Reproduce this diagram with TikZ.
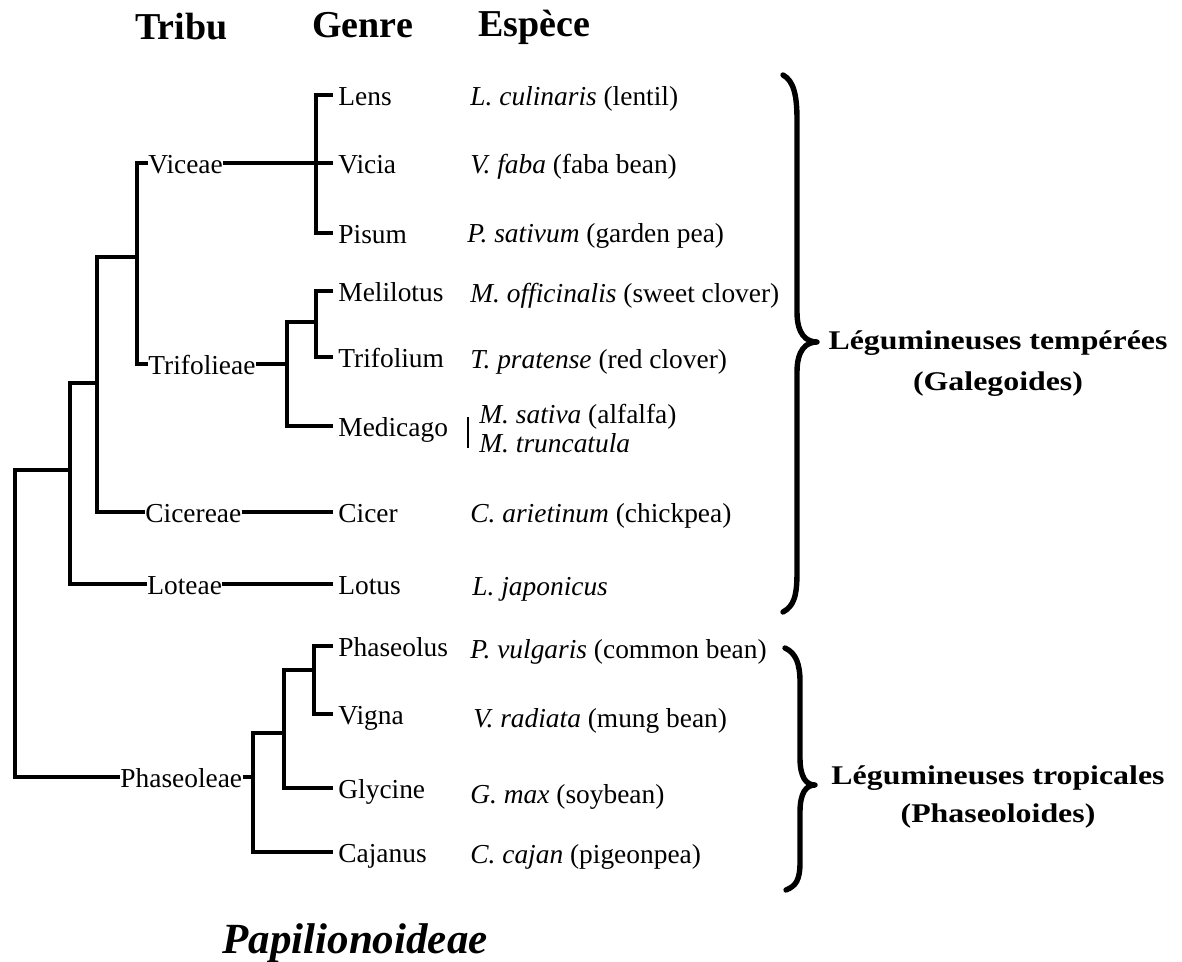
\documentclass[tikz,border=0pt]{standalone}
\usepackage{fontspec}
\setmainfont{Liberation Serif}
\usepackage{graphicx}
\begin{document}
\begin{tikzpicture}[x=0.5pt,y=-0.5pt,
  tree/.style={line width=2.3pt, line join=miter},
  body/.style={font=\fontsize{13.7}{16}\selectfont, inner sep=0pt},
  genus/.style={body, anchor=west, text height=11pt, text depth=0.5pt, inner xsep=2.5pt},
  tribe/.style={body, anchor=west, text height=11pt, text depth=0.5pt},
  species/.style={body, anchor=base west},
  header/.style={font=\fontsize{19}{22}\selectfont\bfseries, inner sep=0pt, anchor=base west},
  grouplab/.style={font=\fontsize{13.5}{16}\selectfont\bfseries, inner sep=0pt, anchor=base},
  bracepath/.style={line width=2.7pt, line cap=round, line join=round}]
\useasboundingbox (0,0) rectangle (1182,962);

% headers
\node[header] (hTribu) at (135,40) {Tribu};
\node[header] (hGenre) at (312,38) {Genre};
\node[header] (hEspece) at (478,37) {Espèce};

% tribes
\node[tribe] (vic) at (148,163) {Viceae};
\node[tribe] (tri) at (148,364) {Trifolieae};
\node[tribe] (cic) at (145,512) {Cicereae};
\node[tribe] (lot) at (147,584) {Loteae};
\node[tribe] (pha) at (120,777) {Phaseoleae};

% genera
\node[genus] (lens) at (333,95) {Lens};
\node[genus] (vicia) at (333,163) {Vicia};
\node[genus] (pisum) at (333,233) {Pisum};
\node[genus] (meli) at (333,291) {Melilotus};
\node[genus] (trif) at (333,357) {Trifolium};
\node[genus] (medi) at (333,426) {Medicago};
\node[genus] (cicer) at (333,512) {Cicer};
\node[genus] (lotus) at (333,584) {Lotus};
\node[genus] (phaseolus) at (333,646) {Phaseolus};
\node[genus] (vigna) at (333,714) {Vigna};
\node[genus] (glycine) at (333,788) {Glycine};
\node[genus] (cajanus) at (333,852) {Cajanus};

% species
\node[species] (sLens) at (470,106) {\textit{L. culinaris} (lentil)};
\node[species] (sVicia) at (470,174) {\textit{V. faba} (faba bean)};
\node[species] (sPisum) at (467,243) {\textit{P. sativum} (garden pea)};
\node[species] (sMeli) at (470,303) {\textit{M. officinalis} (sweet clover)};
\node[species] (sTrif) at (470,368) {\textit{T. pratense} (red clover)};
\node[species] (sMed1) at (479,423) {\textit{M. sativa} (alfalfa)};
\node[species] (sMed2) at (479,452) {\textit{M. truncatula}};
\node[species] (sCicer) at (470,522) {\textit{C. arietinum} (chickpea)};
\node[species] (sLotus) at (472,595) {\textit{L. japonicus}};
\node[species] (sPhas) at (470,658) {\textit{P. vulgaris} (common bean)};
\node[species] (sVigna) at (473,727) {\textit{V. radiata} (mung bean)};
\node[species] (sGly) at (470,803) {\textit{G. max} (soybean)};
\node[species] (sCaj) at (470,863) {\textit{C. cajan} (pigeonpea)};
\draw[line width=1.3pt] (468,417) -- (468,448);

% junction coordinates
\coordinate (c1) at (316,322);
\coordinate (c2) at (287,322);
\coordinate (c3) at (137,257);
\coordinate (c4) at (97,257);
\coordinate (c5) at (97,383);
\coordinate (c6) at (70,383);
\coordinate (c7) at (70,470);
\coordinate (c8) at (15,470);
\coordinate (c10) at (253,733);
\coordinate (c11) at (284,733);
\coordinate (c12) at (284,670);
\coordinate (c13) at (314,670);

% Viceae
\draw[tree] (lens.west) -- ++(-17,0) |- (pisum.west);
\draw[tree] (vic.east) -- (vicia.west);
% Trifolieae
\draw[tree] (meli.west) -- ++(-17,0) |- (trif.west);
\draw[tree] (c1) -- (c2) |- (medi.west);
\draw[tree] (tri.east) -- (tri.east -| c2);
% upper clades
\draw[tree] (vic.west) -- ++(-11,0) |- (tri.west);
\draw[tree] (c3) -- (c4) |- (cic.west);
\draw[tree] (cic.east) -- (cicer.west);
\draw[tree] (c5) -- (c6) |- (lot.west);
\draw[tree] (lot.east) -- (lotus.west);
\draw[tree] (c7) -- (c8) |- (pha.west);
% Phaseoleae
\draw[tree] (pha.east) -- (pha.east -| c10);
\draw[tree] (c11) -- (c10) |- (cajanus.west);
\draw[tree] (c13) -- (c12) |- (glycine.west);
\draw[tree] (phaseolus.west) -- ++(-19,0) |- (vigna.west);

% braces
\draw[bracepath] (783,75) .. controls (794,81) and (797,96) .. (797,120) -- (797,312)
  .. controls (797,334) and (806,342) .. (817,342)
  .. controls (806,342) and (797,350) .. (797,372) -- (797,572)
  .. controls (797,596) and (794,606) .. (783,612);
\draw[bracepath] (785,648) .. controls (796,653) and (800,664) .. (800,682) -- (800,758)
  .. controls (800,777) and (806,785) .. (815,785)
  .. controls (806,785) and (800,793) .. (800,812) -- (800,862)
  .. controls (800,880) and (796,886) .. (786,890);

% group labels
\node[grouplab] (temp1) at (998,350) {\scalebox{1.18}[1]{Légumineuses tempérées}};
\node[grouplab] (temp2) at (998,390) {\scalebox{1.18}[1]{(Galegoides)}};
\node[grouplab] (trop1) at (998,784) {\scalebox{1.18}[1]{Légumineuses tropicales}};
\node[grouplab] (trop2) at (998,822) {\scalebox{1.18}[1]{(Phaseoloides)}};

% subfamily
\node[font=\fontsize{21.5}{25}\selectfont\bfseries\itshape, inner sep=0pt, anchor=base] (papil) at (355,953) {Papilionoideae};
\end{tikzpicture}
\end{document}
